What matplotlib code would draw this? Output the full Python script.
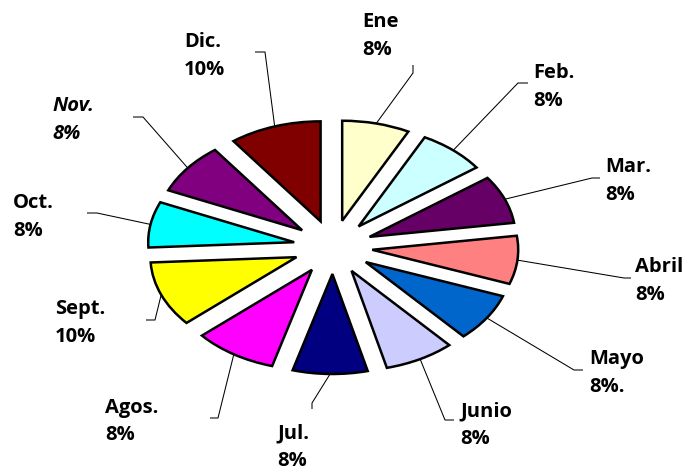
import matplotlib
matplotlib.use("Agg")
from matplotlib import pyplot as plt
import numpy as np

# datos del grafico
meses = ["Ene", "Feb.", "Mar.", "Abril", "Mayo", "Junio",
         "Jul.", "Agos.", "Sept.", "Oct.", "Nov.", "Dic."]
porcentajes = [7.5, 7.5, 7.8, 7.8, 7.8, 7.8, 8.3, 9.2, 10.6, 7.4, 8.3, 10.2]
textos_pct = ["8%", "8%", "8%", "8%", "8%.", "8%",
              "8%", "8%", "10%", "8%", "8%", "10%"]
colores = ["#FFFFCC", "#CCFFFF", "#660066", "#FF8080", "#0066CC", "#CCCCFF",
           "#000080", "#FF00FF", "#FFFF00", "#00FFFF", "#800080", "#800000"]

# layout de etiquetas en pixeles (desde arriba-izquierda)
pos_texto = [(362, 12), (533, 63), (605, 157), (635, 257), (589, 349), (460, 401),
             (277, 423), (105, 398), (55, 299), (13, 193), (52, 96), (184, 32)]
codos = [(413, 73), (518, 83), (592, 178), (624, 278), (574, 370), (445, 420),
         (312, 403), (218, 418), (155, 320), (97, 213), (143, 117), (265, 52)]
finales = [(413, 65), (528, 83), (600, 178), (631, 278), (583, 370), (454, 420),
           (312, 409), (210, 418), (146, 320), (87, 213), (133, 117), (255, 52)]

W, H = 683, 471
cx, cy = 333, 247      # centro del pie en px
rx, ry = 146, 100      # radios en px

fig = plt.figure(figsize=(W / 100, H / 100), dpi=100)
fig.patch.set_facecolor("white")
ax = fig.add_axes([0, 0, 1, 1])

wedges, _ = ax.pie(porcentajes, colors=colores, explode=[0.27] * len(porcentajes),
                   startangle=90, counterclock=False, radius=1,
                   wedgeprops=dict(edgecolor="black", linewidth=1.8))
ax.set_aspect("auto")
ax.set_xlim(-cx / rx, (W - cx) / rx)
ax.set_ylim(-(H - cy) / ry, cy / ry)
ax.axis("off")


def px_a_datos(p):
    return ((p[0] - cx) / rx, (cy - p[1]) / ry)


for i, w in enumerate(wedges):
    mid = np.deg2rad((w.theta1 + w.theta2) / 2)
    x0 = w.center[0] + w.r * np.cos(mid)
    y0 = w.center[1] + w.r * np.sin(mid)
    x1, y1 = px_a_datos(codos[i])
    x2, y2 = px_a_datos(finales[i])
    ax.plot([x0, x1, x2], [y0, y1, y2], color="black", linewidth=0.75,
            solid_capstyle="butt", zorder=0)

    tx, ty = px_a_datos(pos_texto[i])
    estilo = "italic" if meses[i] == "Nov." else "normal"
    ax.text(tx, ty, meses[i] + "\n" + textos_pct[i], ha="left", va="top",
            fontsize=14.5, fontweight="bold", fontstyle=estilo,
            family="Open Sans", linespacing=1.5, color="black")

fig.savefig("out.png", dpi=100, facecolor="white")
